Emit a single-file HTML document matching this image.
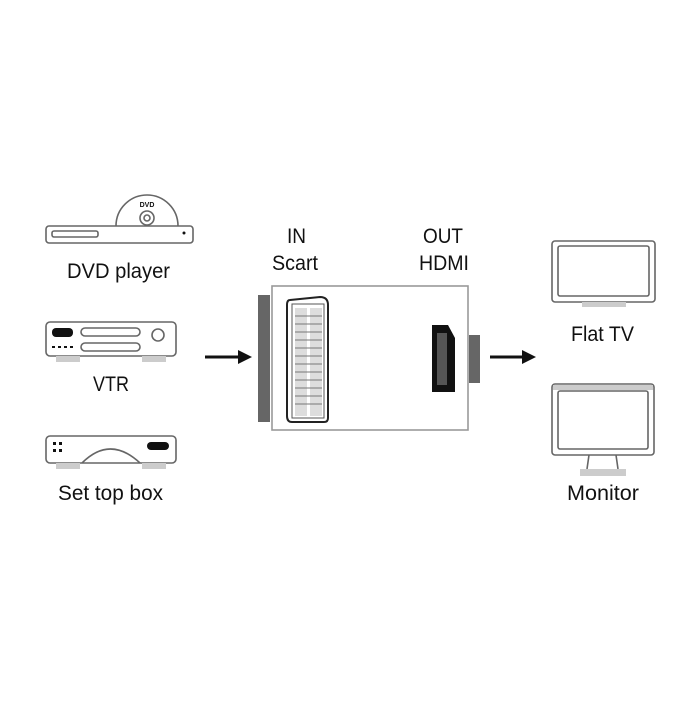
<!DOCTYPE html>
<html><head><style>
html,body{margin:0;padding:0;background:#fff;}
text{font-family:"Liberation Sans",sans-serif;fill:#111;}
</style></head><body>
<svg width="700" height="700" viewBox="0 0 700 700" xmlns="http://www.w3.org/2000/svg">
<g fill="none" stroke="#666" stroke-width="1.6">
<path d="M116 226 A31 31 0 0 1 178 226"/>
<circle cx="147" cy="218" r="7"/>
<circle cx="147" cy="218" r="3"/>
<rect x="46" y="226" width="147" height="17" rx="3"/>
<rect x="52" y="231" width="46" height="6" rx="2"/>
<rect x="46" y="322" width="130" height="34" rx="4"/>
<rect x="81" y="328" width="59" height="8" rx="4"/>
<rect x="81" y="343" width="59" height="8" rx="4"/>
<circle cx="158" cy="335" r="6"/>
<rect x="46" y="436" width="130" height="27" rx="4"/>
<path d="M82 463 Q110 435 140 463"/>
<rect x="552" y="241" width="103" height="61" rx="3"/>
<rect x="558" y="246" width="91" height="50" rx="2"/>
<rect x="552" y="384" width="102" height="71" rx="3"/>
<rect x="558" y="391" width="90" height="58" rx="2"/>
<path d="M589 455 L587 469 M616 455 L618 469"/>
<rect x="272" y="286" width="196" height="144" stroke="#999"/>
<path d="M290 300 L320 297 Q328 297 328 305 L328 418 Q328 422 324 422 L292 422 Q287 422 287 416 L287 305 Q287 300 290 300Z" stroke="#222" stroke-width="2"/>
<rect x="292" y="304" width="32" height="114" stroke="#555" stroke-width="1"/>
</g>
<g fill="#111">
<rect x="52" y="328" width="21" height="9" rx="4"/>
<rect x="147" y="442" width="22" height="8" rx="4"/>
<circle cx="184" cy="233" r="1.5"/>
<rect x="52" y="346" width="3" height="2"/><rect x="58" y="346" width="3" height="2"/><rect x="64" y="346" width="3" height="2"/><rect x="70" y="346" width="3" height="2"/>
<rect x="53" y="442" width="3" height="3"/><rect x="59" y="442" width="3" height="3"/><rect x="53" y="449" width="3" height="3"/><rect x="59" y="449" width="3" height="3"/>
<path d="M432 325 L448 325 L455 338 L455 392 L432 392 Z"/>
<path d="M205 355.5 H238 V350 L252 357 L238 364 V358.5 H205Z"/>
<path d="M490 355.5 H522 V350 L536 357 L522 364 V358.5 H490Z"/>
<text x="147" y="207" font-size="7" text-anchor="middle" font-weight="bold">DVD</text>
</g>
<g fill="#ccc">
<rect x="56" y="356" width="24" height="6"/><rect x="142" y="356" width="24" height="6"/>
<rect x="56" y="463" width="24" height="6"/><rect x="142" y="463" width="24" height="6"/>
<rect x="582" y="302" width="44" height="5"/>
<rect x="580" y="469" width="46" height="7"/>
<rect x="553" y="385" width="100" height="5"/>
</g>
<rect x="258" y="295" width="12" height="127" fill="#666"/>
<rect x="469" y="335" width="11" height="48" fill="#666"/>
<rect x="437" y="333" width="10" height="52" fill="#555"/>
<g fill="#ddd"><rect x="295" y="308" width="12" height="108"/><rect x="310" y="308" width="12" height="108"/></g>
<g stroke="#777" stroke-width="1">
<path d="M295 316H322M295 324H322M295 332H322M295 340H322M295 348H322M295 356H322M295 364H322M295 372H322M295 380H322M295 388H322M295 396H322M295 404H322"/>
</g>
<g font-size="21" lengthAdjust="spacingAndGlyphs">
<text x="67" y="278" textLength="103" lengthAdjust="spacingAndGlyphs">DVD player</text>
<text x="93" y="391" textLength="36" lengthAdjust="spacingAndGlyphs">VTR</text>
<text x="58" y="500" textLength="105" lengthAdjust="spacingAndGlyphs">Set top box</text>
<text x="287" y="243" textLength="19" lengthAdjust="spacingAndGlyphs">IN</text>
<text x="272" y="270" textLength="46" lengthAdjust="spacingAndGlyphs">Scart</text>
<text x="423" y="243" textLength="40" lengthAdjust="spacingAndGlyphs">OUT</text>
<text x="419" y="270" textLength="50" lengthAdjust="spacingAndGlyphs">HDMI</text>
<text x="571" y="341" textLength="63" lengthAdjust="spacingAndGlyphs">Flat TV</text>
<text x="567" y="500" textLength="72" lengthAdjust="spacingAndGlyphs">Monitor</text>
</g>
</svg>
</body></html>
